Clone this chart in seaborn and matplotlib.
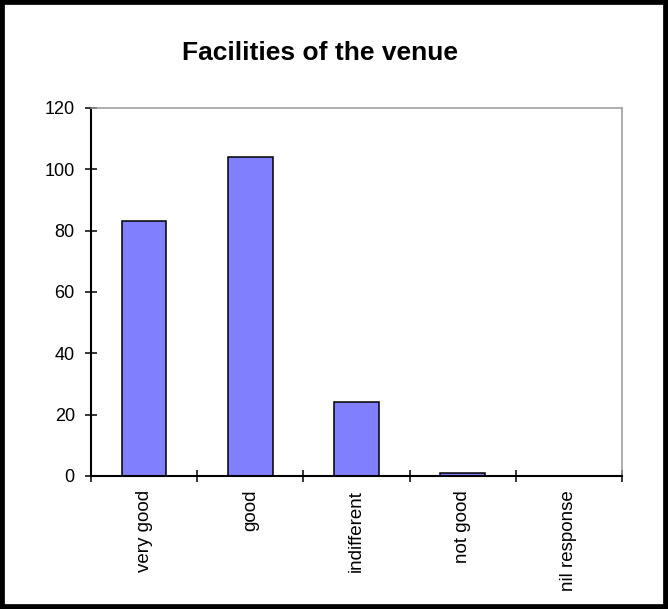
import matplotlib
matplotlib.use("Agg")
import matplotlib.pyplot as plt
import seaborn as sns
import pandas as pd
from matplotlib.patches import Rectangle
from matplotlib.ticker import FixedLocator

categories = ["very good", "good", "indifferent", "not good", "nil response"]
responses = [83, 104, 24, 1, 0]
y_ticks = [0, 20, 40, 60, 80, 100, 120]

df = pd.DataFrame({"rating": categories, "count": responses})

sns.set_theme(style="white")
plt.rcParams["font.family"] = ["Liberation Sans", "DejaVu Sans"]
plt.rcParams["text.color"] = "black"
plt.rcParams["xtick.labelcolor"] = "black"
plt.rcParams["ytick.labelcolor"] = "black"

fig = plt.figure(figsize=(6.68, 6.09), dpi=100)
ax = fig.add_axes([91 / 668, 1 - 476 / 609, (622 - 91) / 668, (476 - 108) / 609])

sns.barplot(data=df, x="rating", y="count", ax=ax, color="#8080FF",
            saturation=1, width=0.42, edgecolor="black", linewidth=1.1)
for bar in ax.patches:
    if bar.get_height() == 0:
        bar.set_linewidth(0)

ax.set_ylim(0, 120)
ax.set_xlim(-0.5, len(categories) - 0.5)
ax.set_yticks(y_ticks)
ax.set_yticklabels([str(v) for v in y_ticks], fontsize=13)
ax.set_xticks(range(len(categories)))
ax.set_xticklabels(categories, rotation=90, fontsize=13.5)
ax.tick_params(axis="x", which="major", length=0, pad=10)
ax.tick_params(axis="y", direction="inout", length=8.6, width=1.1, color="black",
               left=True, pad=7.4)
ax.set_xlabel("")
ax.set_ylabel("")

# crossing tick marks between the categories
ax.xaxis.set_minor_locator(FixedLocator([i - 0.5 for i in range(len(categories) + 1)]))
ax.tick_params(axis="x", which="minor", direction="inout", length=8.6, width=1.1,
               color="black", bottom=True)

for side in ["top", "right"]:
    ax.spines[side].set_color("#999999")
    ax.spines[side].set_linewidth(1.1)
for side in ["left", "bottom"]:
    ax.spines[side].set_color("black")
    ax.spines[side].set_linewidth(1.5)

fig.text(320.5 / 668, 1 - 60 / 609, "Facilities of the venue", ha="center", va="baseline",
         fontsize=19, fontweight="bold", color="black")

fig.patches.append(Rectangle((0, 0), 1, 1, transform=fig.transFigure, fill=False,
                             edgecolor="black", linewidth=7, zorder=10))

fig.savefig("out.png", dpi=100)
